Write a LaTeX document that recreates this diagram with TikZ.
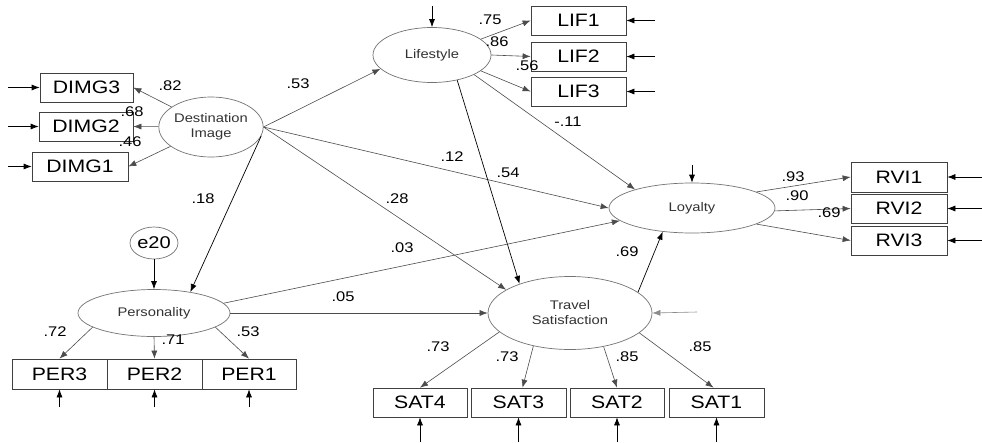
\documentclass[tikz,border=0pt]{standalone}
\usepackage{fontspec}
\setmainfont{Liberation Sans}[FakeStretch=1.18]
\usetikzlibrary{shapes.geometric,arrows.meta}
\begin{document}
\begin{tikzpicture}[x=1pt,y=-1pt,
  arr/.style={-{Latex[length=8pt,width=6pt]},draw=black!70,line width=0.6pt},
  darr/.style={-{Latex[length=8pt,width=6pt]},draw=black,line width=0.7pt},
  obs/.style={draw=black!75,line width=0.7pt,rectangle,inner sep=0pt,font=\fontsize{18}{20}\selectfont},
  lat/.style={draw=black!55,line width=0.7pt,ellipse,inner sep=0pt,align=center,font=\fontsize{12.5}{15}\selectfont,text=black!80},
  lab/.style={font=\fontsize{14}{16}\selectfont,inner sep=0pt}]
\useasboundingbox[fill=white] (0,0) rectangle (982,442);
% latent variables
\node[lat,minimum width=102pt,minimum height=60pt] (di) at (211,127) {Destination\\Image};
\node[lat,minimum width=118pt,minimum height=55pt] (lif) at (432,55) {Lifestyle};
\node[lat,minimum width=166pt,minimum height=50pt] (loy) at (692,208) {Loyalty};
\node[lat,minimum width=152pt,minimum height=47pt] (per) at (154,313) {Personality};
\node[lat,minimum width=164pt,minimum height=73pt] (ts) at (570,313) {Travel\\Satisfaction};
\node[lat,minimum width=48pt,minimum height=32pt,font=\fontsize{17}{19}\selectfont,text=black] (e20) at (154,243) {e20};
% observed
\node[obs,minimum width=93pt,minimum height=29pt] (dimg3) at (86.5,87.5) {DIMG3};
\node[obs,minimum width=94pt,minimum height=29pt] (dimg2) at (86,126.5) {DIMG2};
\node[obs,minimum width=96pt,minimum height=29pt] (dimg1) at (80,166.5) {DIMG1};
\node[obs,minimum width=95pt,minimum height=29pt] (lif1) at (578.5,20.5) {LIF1};
\node[obs,minimum width=95pt,minimum height=29pt] (lif2) at (578.5,56.5) {LIF2};
\node[obs,minimum width=95pt,minimum height=29pt] (lif3) at (578.5,91.5) {LIF3};
\node[obs,minimum width=96pt,minimum height=30pt] (rvi1) at (899,177) {RVI1};
\node[obs,minimum width=96pt,minimum height=29pt] (rvi2) at (899,208.5) {RVI2};
\node[obs,minimum width=96pt,minimum height=29pt] (rvi3) at (899,240.5) {RVI3};
\node[obs,minimum width=95pt,minimum height=30pt] (per3) at (59.5,374) {PER3};
\node[obs,minimum width=95pt,minimum height=30pt] (per2) at (154.5,374) {PER2};
\node[obs,minimum width=94pt,minimum height=30pt] (per1) at (249,374) {PER1};
\node[obs,minimum width=94pt,minimum height=29pt] (sat4) at (420,402.5) {SAT4};
\node[obs,minimum width=95pt,minimum height=29pt] (sat3) at (518.5,402.5) {SAT3};
\node[obs,minimum width=94pt,minimum height=29pt] (sat2) at (617,402.5) {SAT2};
\node[obs,minimum width=95pt,minimum height=29pt] (sat1) at (716.5,402.5) {SAT1};
% error term starts
\coordinate (ed3) at (8,87.5);
\coordinate (ed2) at (8,126.5);
\coordinate (ed1) at (8,166.5);
\coordinate (el1) at (655,20.5);
\coordinate (el2) at (655,56.5);
\coordinate (el3) at (655,91.5);
\coordinate (er1) at (982,177);
\coordinate (er2) at (982,208.5);
\coordinate (er3) at (982,240.5);
\coordinate (ep3) at (59.5,407);
\coordinate (ep2) at (154.5,407);
\coordinate (ep1) at (249,407);
\coordinate (es4) at (420,442);
\coordinate (es3) at (518.5,442);
\coordinate (es2) at (617,442);
\coordinate (es1) at (716.5,442);
\coordinate (elif) at (432,6);
\coordinate (eloy) at (692,165);
\coordinate (ets) at (697,312);
% error arrows
\foreach \a/\b in {ed3/dimg3.west,ed2/dimg2.west,ed1/dimg1.west,el1/lif1.east,el2/lif2.east,el3/lif3.east,er1/rvi1.east,er2/rvi2.east,er3/rvi3.east,ep3/per3.south,ep2/per2.south,ep1/per1.south,es4/sat4.south,es3/sat3.south,es2/sat2.south,es1/sat1.south,elif/lif.north,eloy/loy.north}
  \draw[darr] (\a) -- (\b);
\draw[arr,draw=black!45] (ets) -- (ts.east);
\draw[darr] (e20) -- (per);
% measurement paths
\draw[arr] (di) -- (dimg3.east);
\draw[arr] (di) -- (dimg2.east);
\draw[arr] (di) -- (dimg1.east);
\draw[arr] (lif.18) -- (lif1.west);
\draw[arr] (lif.east) -- (lif2.west);
\draw[arr] (lif.-18) -- (lif3.west);
\draw[arr] (loy.14) -- (rvi1.west);
\draw[arr] (loy.-2) -- (rvi2.west);
\draw[arr] (loy.-14) -- (rvi3.west);
\draw[arr] (per.-167) -- (per3.north);
\draw[arr] (per.-90) -- (per2.north);
\draw[arr] (per.-13) -- (per1.north);
\draw[arr] (ts.-165) -- (sat4.north);
\draw[arr] (ts.-138) -- ([xshift=4pt]sat3.north);
\draw[arr] (ts.-45) -- (sat2.north);
\draw[arr] (ts.-16) -- ([xshift=-3pt]sat1.north);
% structural paths
\draw[arr] (di.east) -- (lif.195);
\draw[arr] (di.east) -- (loy.west);
\draw[arr] (di.east) -- (ts.160);
\draw[darr] (di.-10) -- (per.30);
\draw[arr] (lif.-25) -- (loy.162);
\draw[darr] (lif.-45) -- (ts.150);
\draw[arr] (per.8) -- (loy.190);
\draw[arr] (per.east) -- (ts.west);
\draw[darr] (ts.17) -- (loy.219);
% labels
\node[lab] (l1) at (170,86) {.82};
\node[lab] (l2) at (132,112) {.68};
\node[lab] (l3) at (130,142) {.46};
\node[lab] (l4) at (298,84) {.53};
\node[lab] (l5) at (568,122) {-.11};
\node[lab] (l6) at (452,157) {.12};
\node[lab] (l7) at (508,173) {.54};
\node[lab] (l8) at (397,199) {.28};
\node[lab] (l9) at (402,248) {.03};
\node[lab] (l10) at (343,297) {.05};
\node[lab] (l11) at (627,252) {.69};
\node[lab] (l12) at (203,199) {.18};
\node[lab] (l13) at (490,20) {.75};
\node[lab] (l14) at (497,42) {.86};
\node[lab] (l15) at (527,66) {.56};
\node[lab] (l16) at (793,177) {.93};
\node[lab] (l17) at (797,196) {.90};
\node[lab] (l18) at (829,213) {.69};
\node[lab] (l19) at (55,332) {.72};
\node[lab] (l20) at (173,340) {.71};
\node[lab] (l21) at (248,332) {.53};
\node[lab] (l22) at (438,347) {.73};
\node[lab] (l23) at (507,357) {.73};
\node[lab] (l24) at (627,357) {.85};
\node[lab] (l25) at (700,347) {.85};
\end{tikzpicture}
\end{document}
